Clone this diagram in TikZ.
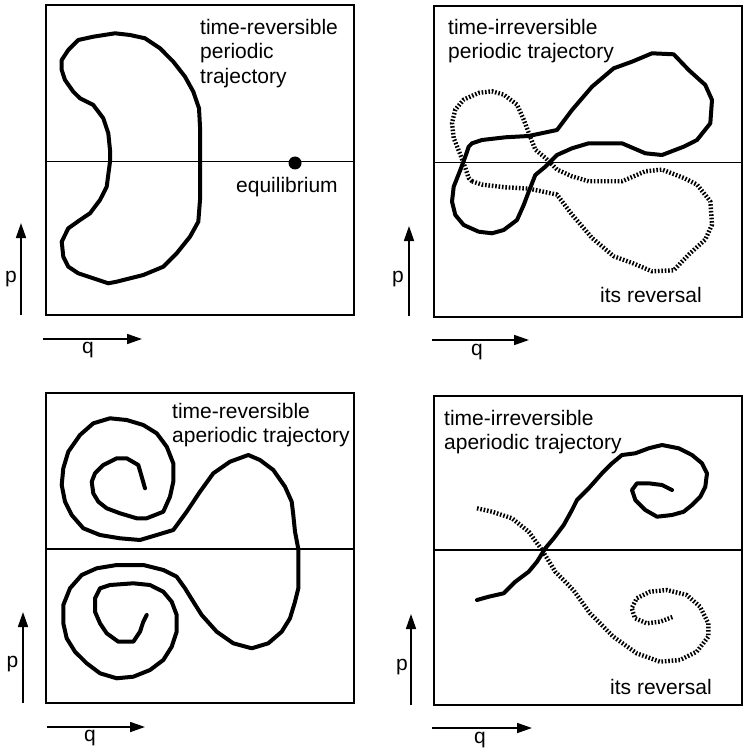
\documentclass[tikz,border=0pt]{standalone}
\usepackage{fontspec}
\setmainfont{Liberation Sans}
\usetikzlibrary{arrows.meta}

\begin{document}
\begin{tikzpicture}[
  x=1pt, y=-1pt,
  font=\fontsize{21}{24.5}\selectfont,
  frame/.style={draw, line width=1.6pt},
  axisline/.style={line width=1.4pt},
  axis/.style={-{Triangle[length=15pt,width=10pt]}, line width=1.7pt},
  traj/.style={line width=4pt, line join=round, line cap=round},
  rev/.style={line width=4.4pt, line join=round, dash pattern=on 1.6pt off 1.8pt},
  lbl/.style={anchor=north west, inner sep=0pt, align=left},
  var/.style={anchor=base, inner sep=0pt},
  dot/.style={circle, fill, inner sep=0pt, minimum size=13pt}]
\useasboundingbox (0,0) rectangle (743,751);
% top left: time-reversible periodic
\draw[frame] (46,5) rectangle (354,315);
\draw[axisline] (46,161.7) -- (354,161.7);
\node[lbl] (t1) at (200,19) {time-reversible\\periodic\\trajectory};
\node[dot] (eq) at (295,163) {};
\node[lbl] (eqlbl) at (236,177) {equilibrium};
\draw[traj] (78.3,40) -- (93.3,36.7) -- (115,33.3) -- (130,35) -- (145,38.3) -- (160,48.3)
  -- (173.3,61.7) -- (185,76.7) -- (193.3,91.7) -- (199,108.3) -- (200,126.7) -- (200,161.7)
  -- (200,200) -- (198.3,221.7) -- (190,236.7) -- (176.7,253.3) -- (163.3,266.7) -- (143.3,275)
  -- (116.7,281.7) -- (108.3,283.3) -- (78.3,273.3) -- (68.3,266.7) -- (63.3,256.7) -- (61.7,241.7)
  -- (68.3,228.3) -- (80,220) -- (90,213.3) -- (100,200) -- (106.7,186.7) -- (110,161.7)
  -- (110,150) -- (108.3,133.3) -- (103.3,118.3) -- (93.3,105) -- (80,98.3) -- (73.3,91.7)
  -- (65,80) -- (61.7,70) -- (61.7,60) -- (68.3,50) -- cycle;
\draw[axis] (21,315) -- (21,223);
\node[var] (p1) at (11,282) {p};
\draw[axis] (43,339) -- (142,339);
\node[var] (q1) at (88,353.5) {q};
% top right: time-irreversible periodic
\draw[frame] (434,6) rectangle (742,317);
\draw[axisline] (434,162.3) -- (742,162.3);
\node[lbl] (t2) at (448,19) {time-irreversible\\periodic trajectory};
\node[lbl] (r2) at (600,287) {its reversal};
\draw[rev] (472,181.3) -- (482,184.6) -- (505.3,187.3) -- (528.7,188.6) -- (557,194.6) -- (572,214.6)
  -- (592,237.9) -- (613.7,256.3) -- (632,262.9) -- (652,271.3) -- (673.7,270.3) -- (688.7,254.6)
  -- (705.3,239.6) -- (712,224.6) -- (710.3,201.3) -- (697,184.6) -- (683.7,177.9) -- (662,169.6)
  -- (645.3,171.3) -- (622,181.3) -- (588.7,181.3) -- (572,176.3) -- (557,169.6) -- (545.3,157.9)
  -- (535.3,149.6) -- (528.7,132.9) -- (523.7,119.6) -- (517,104.6) -- (503.7,94.6) -- (492,91.3)
  -- (478.7,92.9) -- (463.7,99.6) -- (455.3,109.6) -- (452,122.9) -- (453.7,137.9) -- (460.3,154.6)
  -- (465.3,167.9) -- (468.7,177.9) -- cycle;
\draw[traj] (472,143.3) -- (482,140) -- (505.3,137.3) -- (528.7,136) -- (557,130) -- (572,110)
  -- (592,86.7) -- (613.7,68.3) -- (632,61.7) -- (652,53.3) -- (673.7,54.3) -- (688.7,70)
  -- (705.3,85) -- (712,100) -- (710.3,123.3) -- (697,140) -- (683.7,146.7) -- (662,155)
  -- (645.3,153.3) -- (622,143.3) -- (588.7,143.3) -- (572,148.3) -- (557,155) -- (545.3,166.7)
  -- (535.3,175) -- (528.7,191.7) -- (523.7,205) -- (517,220) -- (503.7,230) -- (492,233.3)
  -- (478.7,231.7) -- (463.7,225) -- (455.3,215) -- (452,201.7) -- (453.7,186.7) -- (460.3,170)
  -- (465.3,156.7) -- (468.7,146.7) -- cycle;
\draw[axis] (409,316) -- (409,226);
\node[var] (p2) at (398,282.5) {p};
\draw[axis] (432,340) -- (529,340);
\node[var] (q2) at (477,355) {q};
% bottom left: time-reversible aperiodic
\draw[frame] (46,393) rectangle (354,703);
\draw[axisline] (46,549) -- (354,549);
\node[lbl] (t3) at (172,403) {time-reversible\\aperiodic trajectory};
\draw[traj] (145,488.3) -- (141.7,476.7) -- (138.3,465) -- (126.7,458.3) -- (116.7,458.3) -- (103.3,465)
  -- (95,473.3) -- (91.7,481.7) -- (93.3,493.3) -- (98.3,501.7) -- (106.7,508.3) -- (120,513.3)
  -- (136.7,518.3) -- (146.7,518.3) -- (163.3,511.7) -- (170,496.7) -- (173.3,481.7) -- (173.3,463.3)
  -- (166.7,446.7) -- (156.7,433.3) -- (143.3,425) -- (126.7,420) -- (110,418.3) -- (93.3,423.3)
  -- (80,435) -- (68.3,451.7) -- (63.3,468.3) -- (61.7,485) -- (65,501.7) -- (71.7,515)
  -- (83.3,528.3) -- (100,535) -- (120,538.3) -- (140,540) -- (156.7,535) -- (173.3,530)
  -- (186.7,511.7) -- (200,491.7) -- (213.3,473.3) -- (230,461.7) -- (248.3,455) -- (260,460)
  -- (273.3,470) -- (285,486.7) -- (291.7,501.7) -- (293.3,515) -- (295,531.7) -- (298.3,549)
  -- (298.3,575) -- (298.3,588.3) -- (295,601.7) -- (290,618.3) -- (281.7,631.7) -- (268.3,643.3)
  -- (251.7,648.3) -- (233.3,643.3) -- (216.7,631.7) -- (201.7,615) -- (193.3,601.7) -- (185,588.3)
  -- (176.7,576.7) -- (163.3,570) -- (143.3,565) -- (116.7,565) -- (96.7,568.3) -- (81.7,575)
  -- (70,588.3) -- (63.3,605) -- (63.3,623.3) -- (66.7,638.3) -- (75,651.7) -- (86.7,663.3)
  -- (100,673.3) -- (116.7,678.3) -- (133.3,676.7) -- (150,670) -- (163.3,660) -- (171.7,646.7)
  -- (176.7,631.7) -- (176.7,615) -- (171.7,601.7) -- (163.3,591.7) -- (150,585) -- (133.3,583.3)
  -- (110,585) -- (100,588.3) -- (95,598.3) -- (95,611.7) -- (100,623.3) -- (106.7,633.3)
  -- (118.3,641.7) -- (133.3,641.7) -- (140,631.7) -- (143.3,621.7) -- (146.7,615);
\draw[axis] (23,703) -- (23,612);
\node[var] (p3) at (12.5,667.5) {p};
\draw[axis] (47,727) -- (145,727);
\node[var] (q3) at (90,741.5) {q};
% bottom right: time-irreversible aperiodic
\draw[frame] (434,396) rectangle (742,705);
\draw[axisline] (434,550) -- (742,550);
\node[lbl] (t4) at (444,410) {time-irreversible\\aperiodic trajectory};
\node[lbl] (r4) at (610,679) {its reversal};
\draw[rev] (477,508.3) -- (492,511.7) -- (512,518.3) -- (528.7,531.7) -- (542,550) -- (555.3,571.7)
  -- (573.3,590) -- (590,613.3) -- (613.3,636.7) -- (636.7,653.3) -- (660,661.7) -- (680,660)
  -- (696.7,651.7) -- (708.3,636.7) -- (708.3,623.3) -- (700,606.7) -- (686.7,595) -- (666.7,590)
  -- (650,591.7) -- (636.7,598.3) -- (631.7,608.3) -- (635,618.3) -- (646.7,623.3) -- (660,621.7)
  -- (673.3,616.7);
\draw[traj] (477,600) -- (488.7,596.7) -- (503.7,593.3) -- (515.3,581.7) -- (528.7,571.7) -- (537,561.7)
  -- (545.3,548.3) -- (553.7,538.3) -- (563.7,525) -- (572,510) -- (577,500) -- (588.7,488.3)
  -- (602,473.3) -- (612,463.3) -- (622,455) -- (635.3,453.3) -- (648.7,448.3) -- (662,445)
  -- (678.7,448.3) -- (692,455) -- (702,463.3) -- (707,473.3) -- (705.3,486.7) -- (700.3,496.7)
  -- (692,505) -- (683.7,511.7) -- (672,515) -- (657,516.7) -- (645.3,510) -- (635.3,500)
  -- (632,490) -- (637,483.3) -- (648.7,483.3) -- (662,485) -- (672,490);
\draw[axis] (411,705) -- (411,614);
\node[var] (p4) at (402,670) {p};
\draw[axis] (432,728) -- (532,728);
\node[var] (q4) at (480,743) {q};
\end{tikzpicture}
\end{document}
